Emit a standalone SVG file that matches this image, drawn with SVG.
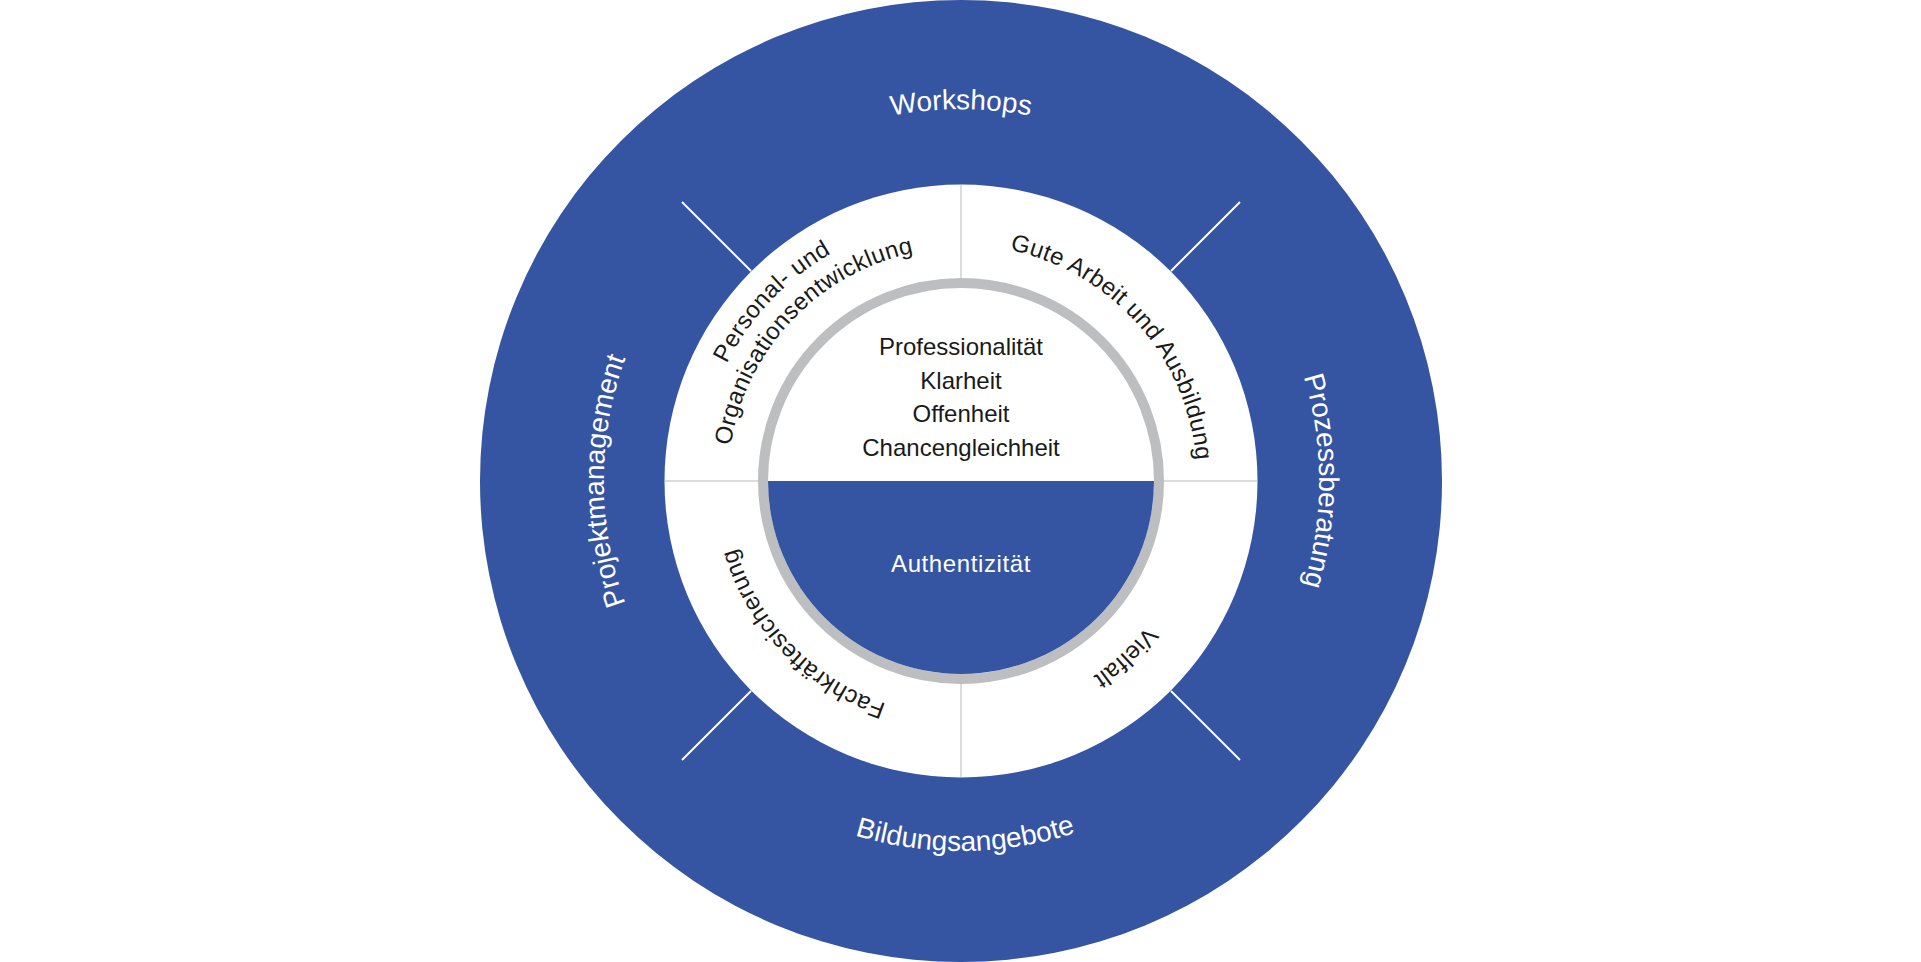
<svg xmlns="http://www.w3.org/2000/svg" width="1921" height="962" viewBox="0 0 1921 962">
<style>
  .blue { fill: #3554a1; }
  .lbl-out { font-family: "Liberation Sans", Arial, sans-serif; font-size: 28px; fill: #ffffff; }
  .lbl-in { font-family: "Liberation Sans", Arial, sans-serif; font-size: 24px; fill: #1a1a1a; letter-spacing: 0.4px; }
  .core { font-family: "Liberation Sans", Arial, sans-serif; font-size: 24px; text-anchor: middle; }
  .sep { stroke: #cfd0d2; stroke-width: 1.5; fill: none; }
  .spoke { stroke: #ffffff; stroke-width: 2; fill: none; }
</style>
<defs>
  <path id="pWorkshops" d="M589.06,474.51 A372,372 0 0 1 1332.94,474.51"/>
  <path id="pProzess" d="M967.25,123.05 A358,358 0 0 1 967.25,838.95"/>
  <path id="pProjekt" d="M954.77,837.95 A357,357 0 0 1 954.77,124.05"/>
  <path id="pBildung" d="M591.16,491.98 A370,370 0 0 0 1330.99,482.94"/>
  <path id="pGute" d="M807.73,301.54 A236,236 0 0 1 1120.44,655.00"/>
  <path id="pVielfalt" d="M1136.38,323.09 A236,236 0 0 1 791.24,644.94"/>
  <path id="pFach" d="M1121.27,652.87 A235,235 0 0 1 794.83,314.83"/>
  <path id="pPersonal" d="M777.36,667.87 A262,262 0 0 1 1138.00,287.83"/>
  <path id="pOrga" d="M797.69,647.19 A233,233 0 0 1 1118.41,309.21"/>
</defs>
<rect x="0" y="0" width="1921" height="962" fill="#ffffff"/>

<g id="outer-ring">
  <circle class="blue" cx="961" cy="481" r="481"/>
  <text class="lbl-out"><textPath href="#pWorkshops" startOffset="50%" text-anchor="middle">Workshops</textPath></text>
  <text class="lbl-out"><textPath href="#pProzess" startOffset="50%" text-anchor="middle">Prozessberatung</textPath></text>
  <text class="lbl-out"><textPath href="#pProjekt" startOffset="50%" text-anchor="middle">Projektmanagement</textPath></text>
  <text class="lbl-out"><textPath href="#pBildung" startOffset="50%" text-anchor="middle">Bildungsangebote</textPath></text>
</g>

<g id="middle-ring">
  <circle cx="961" cy="481" r="296.5" fill="#ffffff"/>
</g>

<g id="connectors">
  <line class="spoke" x1="751" y1="271" x2="682" y2="202"/>
  <line class="spoke" x1="1171" y1="271" x2="1240" y2="202"/>
  <line class="spoke" x1="751" y1="691" x2="682" y2="760"/>
  <line class="spoke" x1="1171" y1="691" x2="1240" y2="760"/>
  <line class="sep" x1="961" y1="185" x2="961" y2="280"/>
  <line class="sep" x1="961" y1="682" x2="961" y2="777"/>
  <line class="sep" x1="665" y1="481" x2="760" y2="481"/>
  <line class="sep" x1="1162" y1="481" x2="1257" y2="481"/>
</g>

<g id="segment-personal">
  <text class="lbl-in"><textPath href="#pPersonal" startOffset="50%" text-anchor="middle">Personal- und</textPath></text>
  <text class="lbl-in"><textPath href="#pOrga" startOffset="50%" text-anchor="middle">Organisationsentwicklung</textPath></text>
</g>
<g id="segment-gute-arbeit">
  <text class="lbl-in"><textPath href="#pGute" startOffset="50%" text-anchor="middle">Gute Arbeit und Ausbildung</textPath></text>
</g>
<g id="segment-vielfalt">
  <text class="lbl-in"><textPath href="#pVielfalt" startOffset="50%" text-anchor="middle">Vielfalt</textPath></text>
</g>
<g id="segment-fachkraefte">
  <text class="lbl-in"><textPath href="#pFach" startOffset="50%" text-anchor="middle">Fachkräftesicherung</textPath></text>
</g>

<g id="core">
  <circle cx="961" cy="481" r="198" fill="#ffffff" stroke="#bdbec0" stroke-width="10"/>
  <path class="blue" d="M768,481 A193,193 0 0 0 1154,481 Z"/>
  <text class="core" x="961" y="355" fill="#1a1a1a">Professionalität</text>
  <text class="core" x="961" y="389" fill="#1a1a1a">Klarheit</text>
  <text class="core" x="961" y="422" fill="#1a1a1a">Offenheit</text>
  <text class="core" x="961" y="456" fill="#1a1a1a">Chancengleichheit</text>
  <text class="core" x="961" y="572" fill="#ffffff" letter-spacing="0.6">Authentizität</text>
</g>
</svg>
